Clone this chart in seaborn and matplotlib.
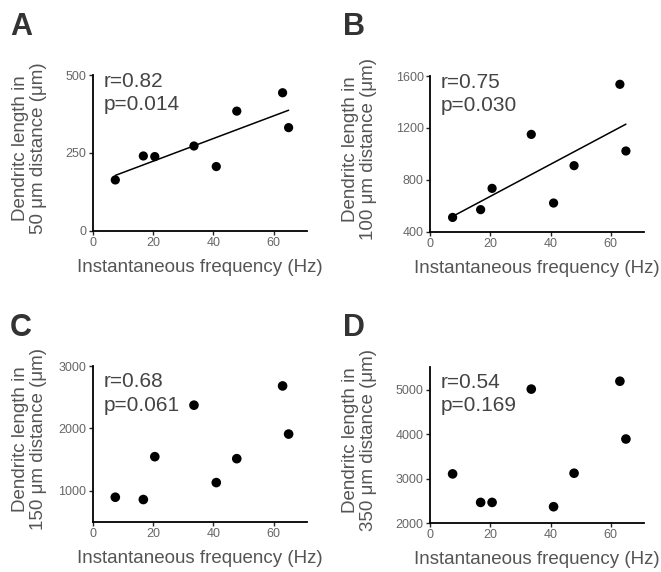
import numpy as np
import pandas as pd
import matplotlib
matplotlib.use("Agg")
import matplotlib.pyplot as plt
import seaborn as sns

# Instantaneous frequency (Hz), same cells in every panel
freq = [7.5, 16.8, 20.6, 33.6, 41.0, 47.8, 63.0, 65.0]

# Dendritic length (um) at each distance
len_50 = [163, 240, 238, 272, 206, 384, 443, 331]
len_100 = [510, 570, 734, 1150, 621, 909, 1536, 1022]
len_150 = [893, 856, 1544, 2371, 1128, 1512, 2680, 1907]
len_350 = [3104, 2463, 2463, 5010, 2366, 3119, 5187, 3888]

panel_letters = ["A", "B", "C", "D"]
distances = ["50", "100", "150", "350"]
stats = [("0.82", "0.014"), ("0.75", "0.030"), ("0.68", "0.061"), ("0.54", "0.169")]
show_fit = [True, True, False, False]
yticks = [[0, 250, 500], [400, 800, 1200, 1600], [1000, 2000, 3000], [2000, 3000, 4000, 5000]]
ylims = [(0, 500), (400, 1600), (500, 3000), (2000, 5500)]

sns.set_style("ticks")
plt.rcParams["font.family"] = ["Liberation Sans", "DejaVu Sans"]

fig = plt.figure(figsize=(6.61, 5.72), dpi=100)
W, H = 661, 572

# axes boxes in pixels: left, top, width, height
boxes = [(92.7, 75, 214, 155.7), (430, 76, 214, 155.7),
         (92.7, 366, 214, 155.7), (430, 367.3, 214, 155.7)]
letter_pos = [(10, 12), (343, 12), (10, 313), (343, 313)]
ylab_x = [-0.214, -0.248, -0.214, -0.248]
text_y = [1.02, 1.02, 0.96, 0.965]

all_lengths = [len_50, len_100, len_150, len_350]

for i, lengths in enumerate(all_lengths):
    l, t, w, h = boxes[i]
    ax = fig.add_axes([l / W, 1 - (t + h) / H, w / W, h / H])
    df = pd.DataFrame({"freq": freq, "length": lengths})
    if show_fit[i]:
        sns.regplot(data=df, x="freq", y="length", ax=ax, ci=None, color="black",
                    scatter_kws={"s": 44, "edgecolor": "none", "alpha": 1, "zorder": 3},
                    line_kws={"lw": 1.1})
    else:
        sns.scatterplot(data=df, x="freq", y="length", ax=ax, color="black",
                        s=48, edgecolor="none", zorder=3)

    ax.set_xlim(0, 71)
    ax.set_ylim(*ylims[i])
    ax.set_xticks([0, 20, 40, 60])
    ax.set_yticks(yticks[i])
    sns.despine(ax=ax)
    for s in ["left", "bottom"]:
        ax.spines[s].set_linewidth(1.3)
        ax.spines[s].set_color("black")
    ax.tick_params(direction="out", length=3, width=1, labelsize=9,
                   labelcolor="#666666", pad=1.5)

    ax.set_xlabel("Instantaneous frequency (Hz)", fontsize=13.5, color="#555555")
    ax.xaxis.set_label_coords(0.5, -0.18)
    ax.set_ylabel("Dendritc length in\n" + distances[i] + " μm distance (μm)",
                  fontsize=13.5, color="#555555", linespacing=1.1)
    ax.yaxis.set_label_coords(ylab_x[i], 0.53)

    r, p = stats[i]
    ax.text(0.05, text_y[i], "r=" + r + "\np=" + p, transform=ax.transAxes,
            ha="left", va="top", fontsize=15, color="#444444", linespacing=1.3,
            bbox=dict(facecolor="white", edgecolor="none", pad=1), zorder=2)

    lx, ly = letter_pos[i]
    fig.text(lx / W, 1 - ly / H, panel_letters[i], fontsize=22,
             fontweight="bold", color="#333333", ha="left", va="top")

fig.savefig("out.png", dpi=100)
